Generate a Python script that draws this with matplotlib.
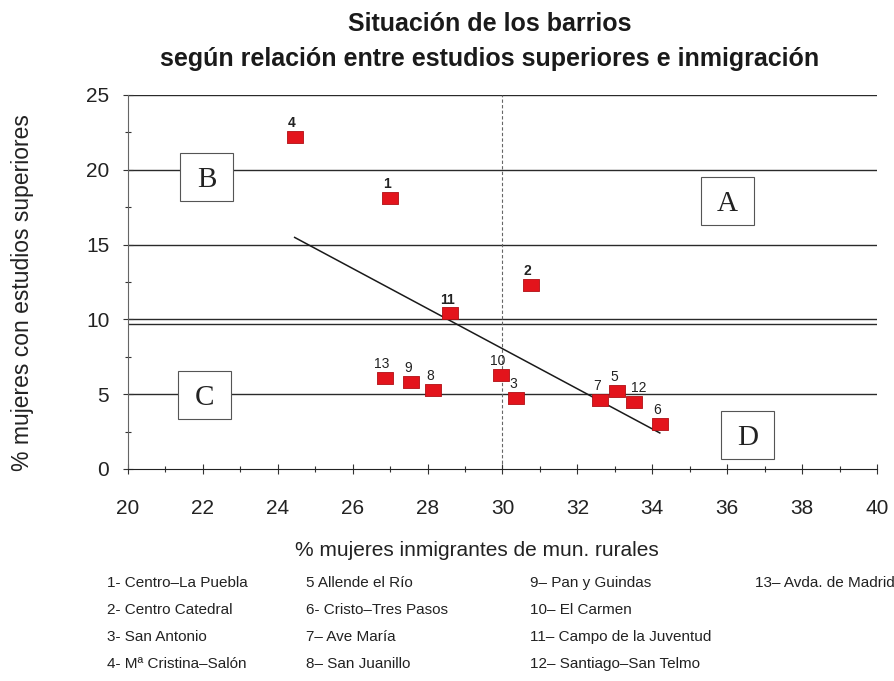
import numpy as np
import matplotlib
matplotlib.use("Agg")
import matplotlib.pyplot as plt
from matplotlib.patches import Rectangle
from matplotlib.ticker import MultipleLocator

# Datos
barrios = ["1", "2", "3", "4", "5", "6", "7", "8", "9", "10", "11", "12", "13"]
inmigrantes = [27.0, 30.75, 30.35, 24.45, 33.05, 34.2, 32.6, 28.15, 27.55, 29.95, 28.6, 33.5, 26.85]
estudios = [18.1, 12.3, 4.75, 22.2, 5.2, 3.0, 4.6, 5.3, 5.8, 6.3, 10.4, 4.5, 6.1]

leyenda = [
    ["1- Centro\u2013La Puebla", "2- Centro Catedral", "3- San Antonio", "4- M\u00aa Cristina\u2013Sal\u00f3n"],
    ["5 Allende el R\u00edo", "6- Cristo\u2013Tres Pasos", "7\u2013 Ave Mar\u00eda", "8\u2013 San Juanillo"],
    ["9\u2013 Pan y Guindas", "10\u2013 El Carmen", "11\u2013 Campo de la Juventud", "12\u2013 Santiago\u2013San Telmo"],
    ["13\u2013 Avda. de Madrid"],
]

cuadrantes = ["A", "B", "C", "D"]
pos_cuadrantes = [(36.0, 17.9), (22.1, 19.5), (22.05, 4.95), (36.55, 2.3)]

SANS = ["Liberation Sans", "DejaVu Sans"]
SERIF = ["Liberation Serif", "DejaVu Serif"]

fig = plt.figure(figsize=(8.94, 6.81), dpi=100)
ax = fig.add_axes([128 / 894, 1 - 469 / 681, (877 - 128) / 894, (469 - 95) / 681])

ax.set_xlim(20, 40)
ax.set_ylim(0, 25)

# Líneas horizontales y divisiones de cuadrantes
for yv in [5, 10, 15, 20, 25]:
    ax.axhline(yv, color="#2a2a2a", lw=1.0, zorder=1)
ax.axhline(9.7, color="#2a2a2a", lw=1.0, zorder=1)
ax.axvline(30, color="#666666", lw=0.8, ls=(0, (3, 2)), zorder=1)

# Recta de regresión
a, b = np.polyfit(inmigrantes, estudios, 1)
xr = np.array([min(inmigrantes), max(inmigrantes)])
ax.plot(xr, a * xr + b, color="#1a1a1a", lw=1.1, zorder=2)

# Puntos
rect = [(-1.35, -1), (1.35, -1), (1.35, 1), (-1.35, 1), (-1.35, -1)]
ax.plot(inmigrantes, estudios, ls="none", marker=rect, ms=12,
        mfc="#e3141c", mec="#b00f14", mew=0.6, zorder=3)

for nombre, xv, yv in zip(barrios, inmigrantes, estudios):
    dx = 4 if nombre == "12" else -2
    peso = "bold" if nombre in ["1", "2", "4", "11"] else "normal"
    ax.annotate(nombre, (xv, yv), xytext=(dx, 10), textcoords="offset points",
                ha="center", va="center", fontsize=10, fontweight=peso,
                family=SANS, color="#222222", zorder=4)

# Letras de los cuadrantes, en recuadros blancos
bw, bh = 1.42, 3.2
for letra, (xv, yv) in zip(cuadrantes, pos_cuadrantes):
    ax.add_patch(Rectangle((xv - bw / 2, yv - bh / 2), bw, bh, fc="white",
                           ec="#555555", lw=0.8, zorder=5))
    ax.text(xv, yv, letra, ha="center", va="center_baseline", fontsize=21,
            family=SERIF, color="#222222", zorder=6)

# Ejes
for s in ["top", "right"]:
    ax.spines[s].set_visible(False)
ax.spines["left"].set_color("#666666")
ax.spines["left"].set_linewidth(0.8)
ax.spines["left"].set_linestyle((0, (3, 1)))
ax.spines["bottom"].set_color("#222222")

ax.xaxis.set_major_locator(MultipleLocator(2))
ax.xaxis.set_minor_locator(MultipleLocator(1))
ax.yaxis.set_major_locator(MultipleLocator(5))
ax.yaxis.set_minor_locator(MultipleLocator(2.5))
ax.tick_params(axis="both", which="both", direction="inout", color="#333333", width=0.8)
ax.tick_params(axis="both", which="major", length=7, labelsize=15)
ax.tick_params(axis="both", which="minor", length=5)
ax.tick_params(axis="x", pad=18)
ax.tick_params(axis="y", pad=10)
for t in ax.get_xticklabels() + ax.get_yticklabels():
    t.set_family(SANS)
    t.set_color("#222222")

fig.text(477 / 894, 1 - 551 / 681, "% mujeres inmigrantes de mun. rurales", ha="center",
         va="center", fontsize=15, family=SANS, color="#222222")
fig.text(23 / 894, 1 - 293 / 681, "% mujeres con estudios superiores", ha="center",
         va="center", rotation=90, fontsize=16.5, family=SANS, color="#222222")

# Título
fig.text(490 / 894, 1 - 24 / 681, "Situación de los barrios", ha="center", va="center",
         fontsize=18, fontweight="bold", family=SANS, color="#1a1a1a")
fig.text(490 / 894, 1 - 59 / 681, "según relación entre estudios superiores e inmigración",
         ha="center", va="center", fontsize=18, fontweight="bold", family=SANS, color="#1a1a1a")

# Leyenda de barrios
col_x = [107, 306, 530, 755]
fila_y = [583, 610, 637, 664]
for cx, columna in zip(col_x, leyenda):
    for fy, texto in zip(fila_y, columna):
        fig.text(cx / 894, 1 - fy / 681, texto, ha="left", va="center", fontsize=11,
                 family=SANS, color="#222222")

fig.savefig("out.png", dpi=100)
